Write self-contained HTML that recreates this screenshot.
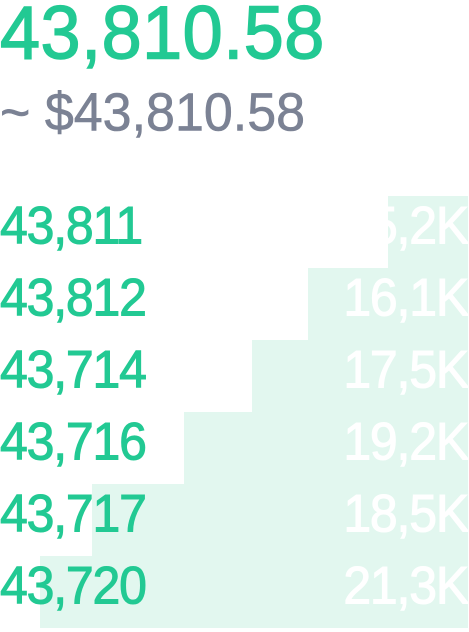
<!DOCTYPE html>
<html><head><meta charset="utf-8"><style>
body{margin:0;width:469px;height:632px;background:#fff;font-family:"Liberation Sans",sans-serif;position:relative;overflow:hidden}
.t{position:absolute;left:0;white-space:nowrap;line-height:1;transform-origin:0 0}
#title{top:-4px;font-size:72px;color:#22c993;letter-spacing:0.5px;-webkit-text-stroke:1.4px #22c993;transform:scaleY(1.04)}
#sub{top:86px;font-size:52px;color:#7b8294;letter-spacing:0px;-webkit-text-stroke:0.6px #7b8294;transform:scaleY(1.04)}
.bar{position:absolute;background:#e2f7ef;height:72px;right:1px}
.price{position:absolute;left:0;font-size:50px;color:#22c993;letter-spacing:-1.2px;line-height:1;-webkit-text-stroke:1px #22c993;transform:scaleY(1.06);transform-origin:0 0}
.vol{position:absolute;right:1px;font-size:50px;color:#fff;letter-spacing:-1.2px;line-height:1;-webkit-text-stroke:1px #fff;transform:scaleY(1.06);transform-origin:0 0}
</style></head><body>
<div class="t" id="title">43,810.58</div>
<div class="t" id="sub">~ $43,810.58</div>
<div id="book"></div>
<script>
const prices=["43,811","43,812","43,714","43,716","43,717","43,720"];
const volumes=["5,2K","16,1K","17,5K","19,2K","18,5K","21,3K"];
const depth=[18.7,37.4,50.5,66.4,87.9,100];
const book=document.getElementById('book');
const top0=196,rowH=72,maxW=428;
prices.forEach((p,i)=>{
  const y=top0+i*rowH;
  const b=document.createElement('div');
  b.className='bar';
  
  
  b.style.top=y+'px';b.style.width=(depth[i]/100*maxW)+'px';
  book.appendChild(b);
  const pe=document.createElement('div');
  pe.className='price';
  
  
  pe.style.top=(y+3)+'px';pe.textContent=p;
  book.appendChild(pe);
  const v=document.createElement('div');
  v.className='vol';
  
  
  v.style.top=(y+3)+'px';v.textContent=volumes[i];
  book.appendChild(v);
});
</script>
</body></html>
